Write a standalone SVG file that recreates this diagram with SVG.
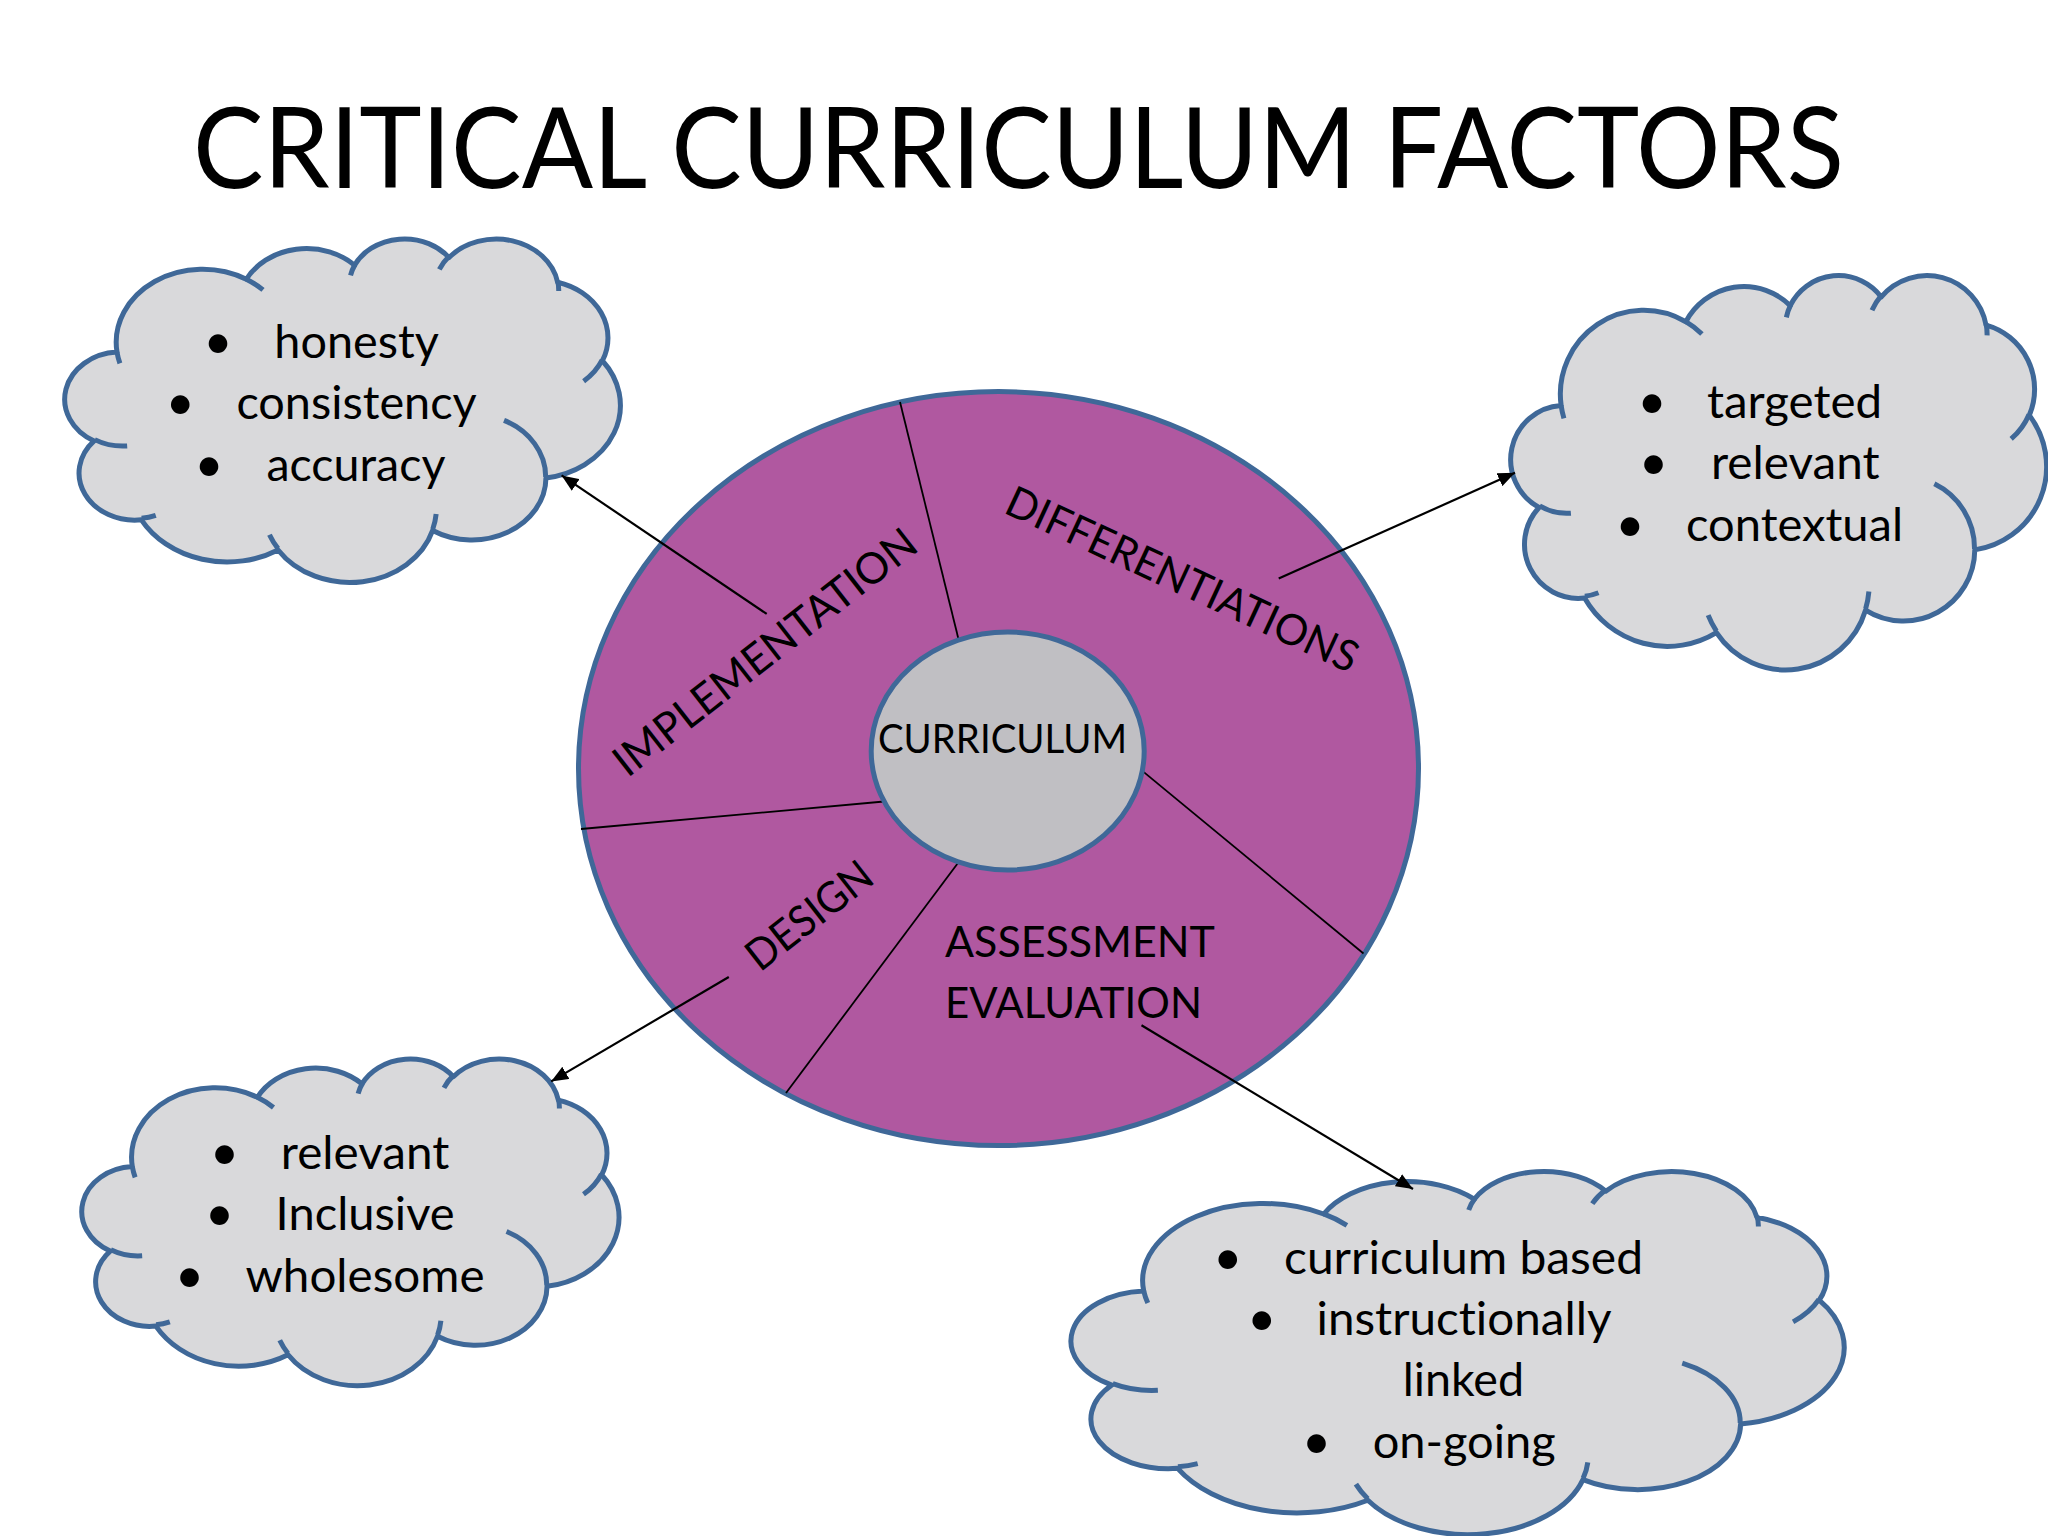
<svg xmlns="http://www.w3.org/2000/svg" xmlns:xlink="http://www.w3.org/1999/xlink" width="2048" height="1536" viewBox="0 0 2048 1536">
<style>
.cloud{fill:#D9D9DB;stroke:#3F6898;stroke-width:5;stroke-linejoin:round}
.cloudArc{fill:none;stroke:#3F6898;stroke-width:5;stroke-linecap:butt}
.t{font-family:Lato,"Open Sans","Liberation Sans",sans-serif;fill:#000;font-variant-ligatures:none}
.title{font-size:112px}
.lbl{font-size:43px}
.ct{font-size:47px}
.bul{font-size:50px;text-anchor:middle}
.div{stroke:#000;stroke-width:1.8;fill:none}
.arr{stroke:#000;stroke-width:2.2;fill:none;marker-end:url(#ah)}
</style>
<defs>
<marker id="ah" markerUnits="userSpaceOnUse" markerWidth="18" markerHeight="14" refX="17" refY="7" orient="auto">
<path d="M0,0 L17,7 L0,14 Z" fill="#000"/>
</marker>
<path id="cloudBody" vector-effect="non-scaling-stroke" d="M3900 14370 A6753 9190 0 0 1 14003 5200 A5333 7267 0 0 1 22454 3430 A4365 5945 0 0 1 29831 2478 A4857 6595 0 0 1 38316 5573 A5333 7273 0 0 1 41817 15456 A6775 9220 0 0 1 37403 30199 A5785 7867 0 0 1 28555 36810 A6752 9215 0 0 1 16481 39263 A7720 10543 0 0 1 5803 35470 A4360 5918 0 0 1 2112 25548 A4345 5945 0 0 1 3900 14370 Z"/>
<path id="cloudArcs" vector-effect="non-scaling-stroke" d="M4693 26177 A4345 5945 0 0 1 2160 25380 M6928 34899 A4360 5918 0 0 1 5819 35281 M16478 39090 A6752 9215 0 0 1 15809 37346 M28827 34751 A6752 9215 0 0 1 28560 36661 M34129 22954 A5785 7867 0 0 1 37381 30090 M41798 15354 A5333 7273 0 0 1 40349 18030 M38324 5426 A4857 6595 0 0 1 38401 6690 M29078 3952 A4857 6595 0 0 1 29820 2340 M22141 4720 A4365 5945 0 0 1 22500 3330 M14000 5192 A6753 9190 0 0 1 15304 6545 M4127 15789 A6753 9190 0 0 1 3901 14372"/>
</defs>
<rect width="2048" height="1536" fill="#FFFFFF"/>
<text id="title" class="t title" x="193" y="188" textLength="1651" lengthAdjust="spacingAndGlyphs">CRITICAL CURRICULUM FACTORS</text>

<g id="wheel">
<ellipse cx="998.5" cy="768.6" rx="420" ry="377" fill="#B058A0" stroke="#3F6898" stroke-width="5"/>
</g>

<g id="dividers">
<line class="div" x1="900" y1="402" x2="958.7" y2="640"/>
<line class="div" x1="581" y1="829" x2="884" y2="801.5"/>
<line class="div" x1="958.7" y1="862" x2="786" y2="1093"/>
<line class="div" x1="1142" y1="770.6" x2="1363.5" y2="953.5"/>
</g>

<g id="curriculum">
<ellipse cx="1007.7" cy="751" rx="136.5" ry="119" fill="#C0BFC3" stroke="#3F6898" stroke-width="5"/>
<text class="t" font-size="41" x="878" y="752.7" textLength="249" lengthAdjust="spacingAndGlyphs">CURRICULUM</text>
</g>

<g id="label-implementation">
<text class="t lbl" text-anchor="middle" transform="translate(774,664) rotate(-38)" textLength="372" lengthAdjust="spacingAndGlyphs">IMPLEMENTATION</text>
</g>
<g id="label-differentiations">
<text class="t lbl" text-anchor="middle" transform="translate(1176,592.8) rotate(24.9)" textLength="383" lengthAdjust="spacingAndGlyphs">DIFFERENTIATIONS</text>
</g>
<g id="label-design">
<text class="t lbl" text-anchor="middle" transform="translate(818.4,927.2) rotate(-38)" textLength="148" lengthAdjust="spacingAndGlyphs">DESIGN</text>
</g>
<g id="label-assessment">
<text class="t lbl" x="945" y="956.7" textLength="270" lengthAdjust="spacingAndGlyphs">ASSESSMENT</text>
<text class="t lbl" x="945" y="1018.3" textLength="257" lengthAdjust="spacingAndGlyphs">EVALUATION</text>
</g>

<g id="cloud-implementation">
<use xlink:href="#cloudBody" href="#cloudBody" class="cloud" transform="translate(67.07,237.9) scale(0.012803,0.007948)"/>
<use xlink:href="#cloudArcs" href="#cloudArcs" class="cloudArc" transform="translate(67.07,237.9) scale(0.012803,0.007948)"/>
<text class="t bul" x="218" y="359">•</text>
<text class="t ct" x="274.3" y="358" textLength="164.5" lengthAdjust="spacingAndGlyphs">honesty</text>
<text class="t bul" x="180.2" y="420">•</text>
<text class="t ct" x="236.4" y="419" textLength="240.3" lengthAdjust="spacingAndGlyphs">consistency</text>
<text class="t bul" x="209" y="481.6">•</text>
<text class="t ct" x="266.4" y="480.6" textLength="179" lengthAdjust="spacingAndGlyphs">accuracy</text>
</g>

<g id="cloud-differentiations">
<use xlink:href="#cloudBody" href="#cloudBody" class="cloud" transform="translate(1512.96,274.3) scale(0.012347,0.009126)"/>
<use xlink:href="#cloudArcs" href="#cloudArcs" class="cloudArc" transform="translate(1512.96,274.3) scale(0.012347,0.009126)"/>
<text class="t bul" x="1652" y="419">•</text>
<text class="t ct" x="1707" y="418" textLength="175" lengthAdjust="spacingAndGlyphs">targeted</text>
<text class="t bul" x="1653.5" y="480">•</text>
<text class="t ct" x="1711" y="479" textLength="168.5" lengthAdjust="spacingAndGlyphs">relevant</text>
<text class="t bul" x="1630" y="541.7">•</text>
<text class="t ct" x="1686" y="540.7" textLength="217" lengthAdjust="spacingAndGlyphs">contextual</text>
</g>

<g id="cloud-design">
<use xlink:href="#cloudBody" href="#cloudBody" class="cloud" transform="translate(84.06,1057.96) scale(0.012378,0.00756)"/>
<use xlink:href="#cloudArcs" href="#cloudArcs" class="cloudArc" transform="translate(84.06,1057.96) scale(0.012378,0.00756)"/>
<text class="t bul" x="224.6" y="1170">•</text>
<text class="t ct" x="280.8" y="1169" textLength="168.5" lengthAdjust="spacingAndGlyphs">relevant</text>
<text class="t bul" x="219.4" y="1231">•</text>
<text class="t ct" x="275.6" y="1230" textLength="179" lengthAdjust="spacingAndGlyphs">Inclusive</text>
<text class="t bul" x="189.4" y="1292.7">•</text>
<text class="t ct" x="245.5" y="1291.7" textLength="239" lengthAdjust="spacingAndGlyphs">wholesome</text>
</g>

<g id="cloud-assessment">
<use xlink:href="#cloudBody" href="#cloudBody" class="cloud" transform="translate(1074.26,1170.34) scale(0.017815,0.008402)"/>
<use xlink:href="#cloudArcs" href="#cloudArcs" class="cloudArc" transform="translate(1074.26,1170.34) scale(0.017815,0.008402)"/>
<text class="t bul" x="1227.7" y="1274.5">•</text>
<text class="t ct" x="1284" y="1273.5" textLength="359" lengthAdjust="spacingAndGlyphs">curriculum based</text>
<text class="t bul" x="1261.7" y="1335.8">•</text>
<text class="t ct" x="1316.5" y="1334.8" textLength="295" lengthAdjust="spacingAndGlyphs">instructionally</text>
<text class="t ct" x="1402.7" y="1396.2" textLength="121.5" lengthAdjust="spacingAndGlyphs">linked</text>
<text class="t bul" x="1316.5" y="1458.6">•</text>
<text class="t ct" x="1372.7" y="1457.6" textLength="183" lengthAdjust="spacingAndGlyphs">on-going</text>
</g>

<g id="connectors">
<line class="arr" x1="766.7" y1="613.9" x2="561.6" y2="475.4"/>
<line class="arr" x1="1278.7" y1="578.6" x2="1515" y2="472.8"/>
<line class="arr" x1="728.8" y1="977" x2="551.2" y2="1081.4"/>
<line class="arr" x1="1141.5" y1="1025.3" x2="1413" y2="1189"/>
</g>
</svg>
